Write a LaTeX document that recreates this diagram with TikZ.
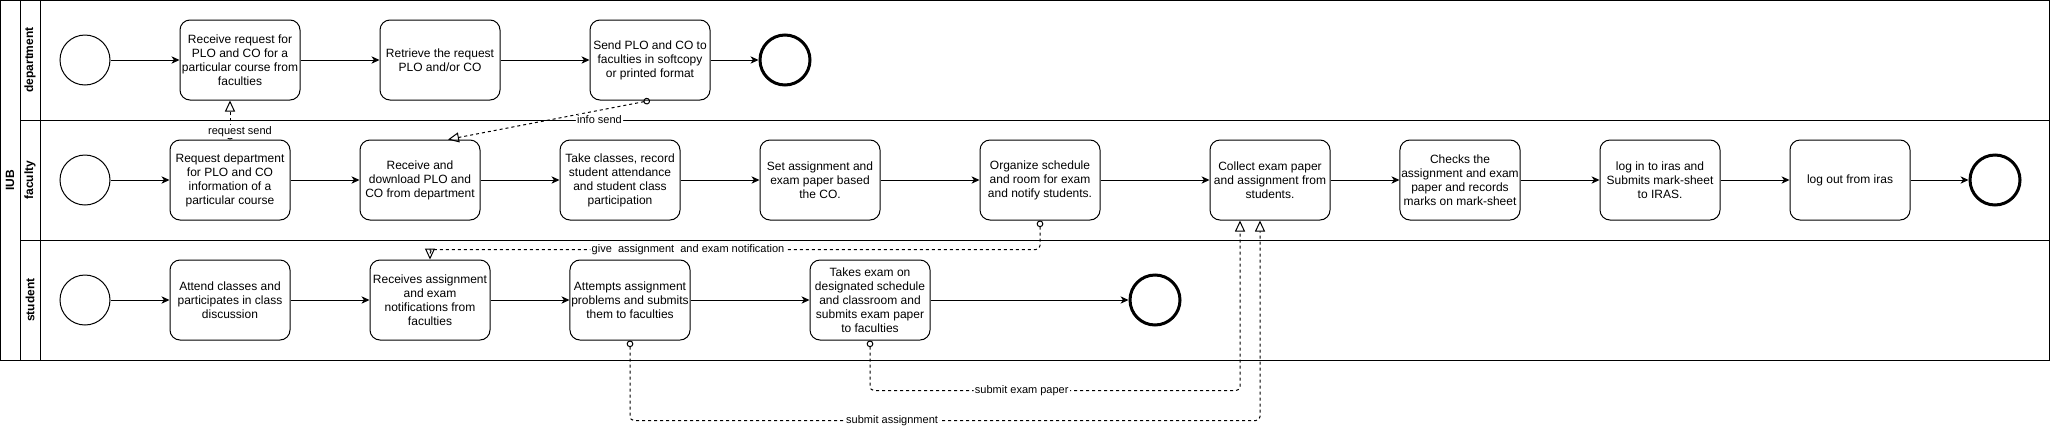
\documentclass[tikz,border=0pt]{standalone}
\usepackage{fontspec}
\setmainfont{Liberation Sans}
\usetikzlibrary{arrows.meta,positioning}

\begin{document}
\begin{tikzpicture}[x=0.75pt,y=-0.75pt,on grid,line width=0.75pt,
    >={Stealth[length=6pt,width=5.5pt,inset=1.8pt]}]
       \tikzstyle{task}=[draw,rectangle,rounded corners=7.5pt,minimum width=90pt,minimum height=60pt,
                         align=center,inner sep=1pt,font=\fontsize{9}{10.5}\selectfont]
       \tikzstyle{event}=[draw,circle,minimum size=37.5pt,inner sep=0pt]
       \tikzstyle{endevent}=[event,line width=2.25pt]
       \tikzstyle{lanename}=[rotate=90,font=\fontsize{9}{10.5}\selectfont\bfseries]
       \tikzstyle{msg}=[draw,dash pattern=on 2.25pt off 2.25pt,rounded corners=3pt,
                        {Circle[open,length=5pt]}-{Triangle[open,length=8.25pt,width=7.5pt]}]
       \tikzstyle{msglabel}=[fill=white,inner sep=1pt,font=\fontsize{8.25}{9}\selectfont]

       \useasboundingbox (0,0) rectangle (2051,436);

       % pool and lanes
       \draw (0,0) rectangle (2049,360);
       \draw (20,0) -- (20,360) (40,0) -- (40,360)
             (20,120) -- (2049,120) (20,240) -- (2049,240);
       \node[lanename] (pool) at (10,180) {IUB};
       \node[lanename] (l_dep) at (30,60) {department};
       \node[lanename] (l_fac) at (30,180) {faculty};
       \node[lanename] (l_stu) at (30,300) {student};

       % department
       \node[event] (d_start) at (85,60) {};
       \node[task] (d_recv) [right=116.25pt of d_start] {Receive request for\\PLO and CO for a\\particular course from\\faculties};
       \node[task] (d_retr) [right=150pt of d_recv] {Retrieve the request\\PLO and/or CO};
       \node[task] (d_send) [right=157.5pt of d_retr] {Send PLO and CO to\\faculties in softcopy\\or printed format};
       \node[endevent] (d_end) [right=101.25pt of d_send] {};

       % faculty
       \node[event] (f_start) at (85,180) {};
       \node[task] (f_req) [right=108.75pt of f_start] {Request department\\for PLO and CO\\information of a\\particular course};
       \node[task] (f_recv) [right=142.5pt of f_req] {Receive and\\download PLO and\\CO from department};
       \node[task] (f_take) [right=150pt of f_recv] {Take classes, record\\student attendance\\and student class\\participation};
       \node[task] (f_set) [right=150pt of f_take] {Set assignment and\\exam paper based\\the CO.};
       \node[task] (f_org) [right=165pt of f_set] {Organize schedule\\and room for exam\\and notify students.};
       \node[task] (f_coll) [right=172.5pt of f_org] {Collect exam paper\\and assignment from\\students.};
       \node[task] (f_check) [right=142.5pt of f_coll] {Checks the\\assignment and exam\\paper and records\\marks on mark-sheet};
       \node[task] (f_login) [right=150pt of f_check] {log in to iras and\\Submits mark-sheet\\to IRAS.};
       \node[task] (f_logout) [right=142.5pt of f_login] {log out from iras};
       \node[endevent] (f_end) [right=108.75pt of f_logout] {};

       % student
       \node[event] (s_start) at (85,300) {};
       \node[task] (s_att) [right=108.75pt of s_start] {Attend classes and\\participates in class\\discussion};
       \node[task] (s_recv) [right=150pt of s_att] {Receives assignment\\and exam\\notifications from\\faculties};
       \node[task] (s_try) [right=150pt of s_recv] {Attempts assignment\\problems and submits\\them to faculties};
       \node[task] (s_exam) [right=180pt of s_try] {Takes exam on\\designated schedule\\and classroom and\\submits exam paper\\to faculties};
       \node[endevent] (s_end) [right=213.75pt of s_exam] {};

       \path[->]
       (d_start) edge (d_recv)
       (d_recv) edge (d_retr)
       (d_retr) edge (d_send)
       (d_send) edge (d_end)
       (f_start) edge (f_req)
       (f_req) edge (f_recv)
       (f_recv) edge (f_take)
       (f_take) edge (f_set)
       (f_set) edge (f_org)
       (f_org) edge (f_coll)
       (f_coll) edge (f_check)
       (f_check) edge (f_login)
       (f_login) edge (f_logout)
       (f_logout) edge (f_end)
       (s_start) edge (s_att)
       (s_att) edge (s_recv)
       (s_recv) edge (s_try)
       (s_try) edge (s_exam)
       (s_exam) edge (s_end);

       % message flows
       \coordinate (c_exam) at ([xshift=-22.5pt]f_coll.south);
       \coordinate (c_assign) at ([xshift=-7.5pt]f_coll.south);

       \draw[msg] (f_req.north) -- node[msglabel,pos=0.21,xshift=7.5pt] {request send} (f_req.north |- d_recv.south);
       \draw[msg] (d_send.south) -- node[msglabel,pos=0.25,yshift=-6.75pt] {info send} ([xshift=21pt]f_recv.north);
       \draw[msg] (f_org.south) -- ++(0,29) coordinate (g1)
             -- node[msglabel,pos=0.577] {give\ \ assignment\ \ and exam notification} (g1 -| s_recv.north) -- (s_recv.north);
       \draw[msg] (s_exam.south) -- ++(0,50) coordinate (e1)
             -- node[msglabel,pos=0.41] {submit exam paper} (e1 -| c_exam) -- (c_exam);
       \draw[msg] (s_try.south) -- ++(0,80) coordinate (a1)
             -- node[msglabel,pos=0.416] {submit assignment} (a1 -| c_assign) -- (c_assign);
\end{tikzpicture}
\end{document}
